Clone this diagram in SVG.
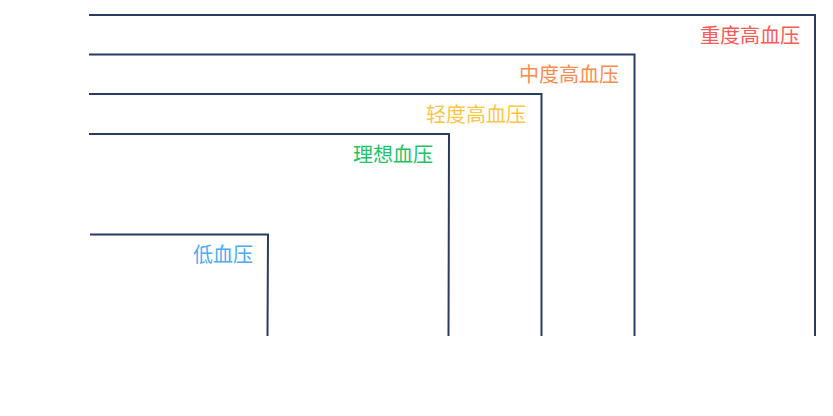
<svg xmlns="http://www.w3.org/2000/svg" width="833" height="416" viewBox="0 0 833 416">
<style>
.ln{fill:none;stroke:#293a65;stroke-width:2}
.lb{font-family:"Noto Sans CJK SC","Noto Sans",sans-serif;font-size:20px;text-anchor:end}
</style>
<rect width="833" height="416" fill="#ffffff"/>
<g id="connectors">
<polyline class="ln" points="89,15 815,15 815,336"/>
<polyline class="ln" points="89,54.5 634.5,54.5 634.5,336"/>
<polyline class="ln" points="89,94 541.5,94 541.5,336"/>
<polyline class="ln" points="89,134 449,134 448.5,336"/>
<polyline class="ln" points="90,234.5 268,234.5 267.5,336"/>
</g>
<g id="severe"><text class="lb" x="800" y="42.5" fill="#f85a55">重度高血压</text></g>
<g id="moderate"><text class="lb" x="619" y="81.5" fill="#fb8c4c">中度高血压</text></g>
<g id="mild"><text class="lb" x="526" y="121.5" fill="#fcc643">轻度高血压</text></g>
<g id="ideal"><text class="lb" x="433" y="161.5" fill="#21c465">理想血压</text></g>
<g id="low"><text class="lb" x="253" y="261.5" fill="#4aaaf4">低血压</text></g>
</svg>
